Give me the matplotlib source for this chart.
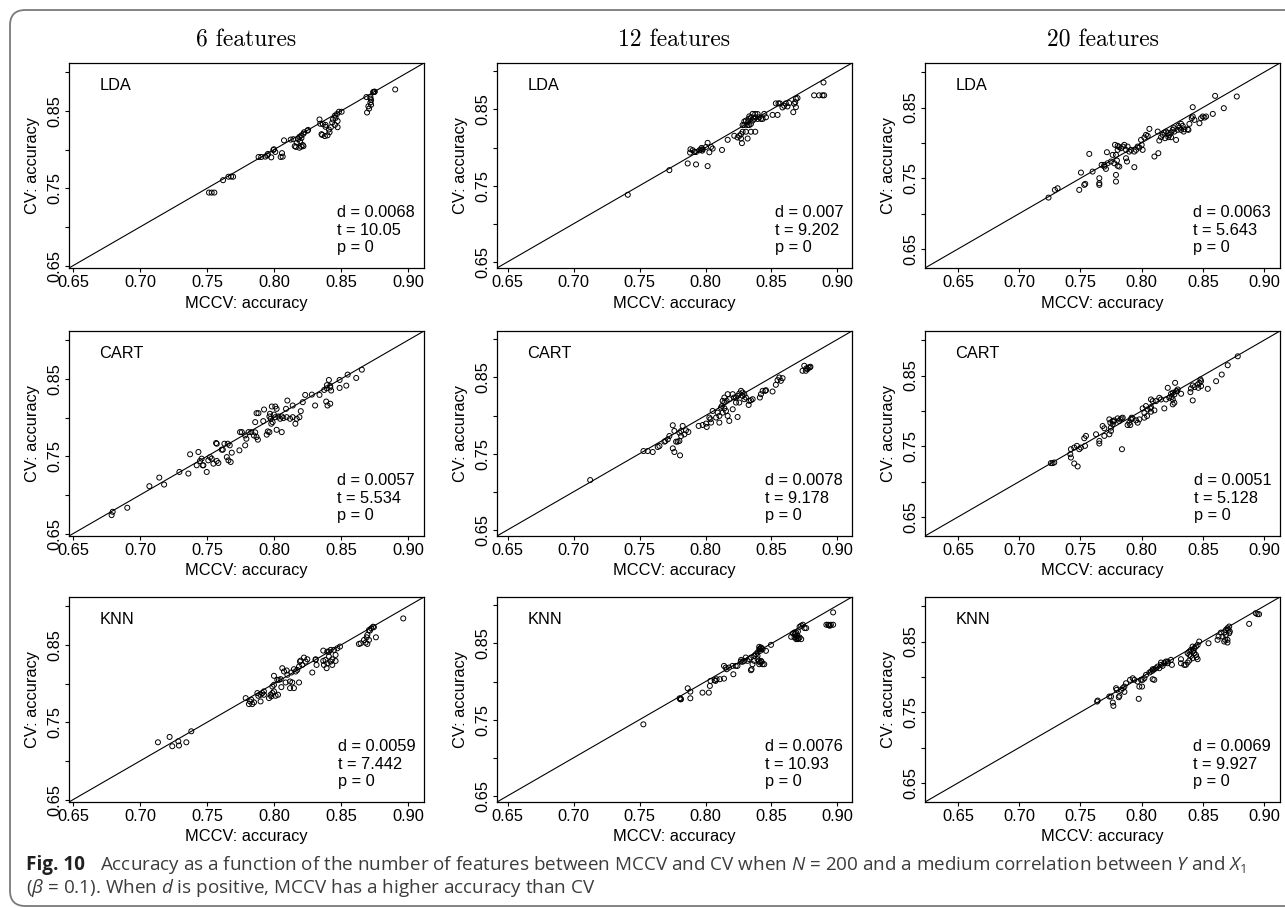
import matplotlib
matplotlib.use("Agg")
import matplotlib.pyplot as plt
from matplotlib.patches import FancyBboxPatch

plt.rcParams['font.family'] = ['Liberation Sans', 'DejaVu Sans']
plt.rcParams['mathtext.fontset'] = 'custom'
plt.rcParams['mathtext.rm'] = 'Open Sans'
plt.rcParams['mathtext.it'] = 'Open Sans:italic'

# ---- data: (MCCV accuracy, CV accuracy) ----
lda_6 = [(0.8905, 0.8778), (0.8745, 0.8748), (0.875, 0.8745), (0.8752, 0.875), (0.874, 0.8742),
         (0.869, 0.868), (0.872, 0.868), (0.8725, 0.864), (0.872, 0.861), (0.8725, 0.858), (0.8705, 0.856),
         (0.871, 0.853), (0.8695, 0.848), (0.872, 0.866),
         (0.8505, 0.849), (0.8485, 0.849), (0.847, 0.846), (0.8455, 0.844), (0.846, 0.841), (0.844, 0.839),
         (0.8475, 0.837), (0.8435, 0.835), (0.8455, 0.832), (0.8475, 0.829), (0.8425, 0.829), (0.841, 0.826),
         (0.8385, 0.8295), (0.8365, 0.833), (0.8345, 0.8335), (0.834, 0.839), (0.8385, 0.832), (0.8415, 0.8225),
         (0.84, 0.8185), (0.838, 0.8175), (0.836, 0.819), (0.8355, 0.82),
         (0.8255, 0.8255), (0.825, 0.8245), (0.8225, 0.8225), (0.822, 0.8205), (0.8205, 0.8185), (0.819, 0.8165),
         (0.8205, 0.815), (0.818, 0.8135), (0.8195, 0.811), (0.817, 0.809), (0.8215, 0.806), (0.8205, 0.804),
         (0.819, 0.8025), (0.8165, 0.8035), (0.8155, 0.8045), (0.822, 0.8045), (0.8145, 0.8135), (0.8125, 0.813),
         (0.8075, 0.812),
         (0.80, 0.8005), (0.7995, 0.7995), (0.801, 0.797), (0.7955, 0.7945), (0.795, 0.7925), (0.7935, 0.791),
         (0.7905, 0.7905), (0.7885, 0.7905), (0.798, 0.79), (0.806, 0.7955), (0.805, 0.7905), (0.8065, 0.791),
         (0.7695, 0.765), (0.768, 0.7652), (0.766, 0.765), (0.762, 0.7605),
         (0.7555, 0.7445), (0.7535, 0.7445), (0.7515, 0.7445)]

cart_6 = [(0.8656, 0.862), (0.8614, 0.8513), (0.855, 0.8556), (0.854, 0.8414), (0.849, 0.8487), (0.849, 0.8384),
          (0.8427, 0.835), (0.842, 0.839), (0.842, 0.841), (0.8395, 0.842), (0.841, 0.8487), (0.8395, 0.838),
          (0.8375, 0.8358), (0.839, 0.8208), (0.840, 0.8157), (0.842, 0.818), (0.834, 0.8294), (0.8307, 0.8157),
          (0.8283, 0.8298), (0.8233, 0.8294), (0.8215, 0.82),
          (0.820, 0.8084), (0.819, 0.8006), (0.817, 0.7985), (0.816, 0.7921), (0.814, 0.8006), (0.812, 0.7985),
          (0.8095, 0.8006), (0.807, 0.7994), (0.8046, 0.7985), (0.8058, 0.8015), (0.8033, 0.8015),
          (0.81, 0.8221), (0.814, 0.8157), (0.809, 0.8114),
          (0.801, 0.8144), (0.802, 0.8114), (0.801, 0.8006), (0.799, 0.7942), (0.798, 0.7921), (0.80, 0.804),
          (0.7984, 0.8144), (0.7976, 0.7985), (0.7966, 0.8015), (0.797, 0.805), (0.802, 0.7843), (0.8058, 0.7813),
          (0.7926, 0.8105), (0.7884, 0.8058), (0.787, 0.8058), (0.786, 0.7942), (0.792, 0.7955),
          (0.787, 0.775), (0.788, 0.7715), (0.785, 0.777), (0.786, 0.781),
          (0.7954, 0.7822), (0.7946, 0.778), (0.7966, 0.7813),
          (0.781, 0.7813), (0.783, 0.7813), (0.7785, 0.777), (0.7794, 0.7727), (0.776, 0.7813), (0.7747, 0.7813),
          (0.7785, 0.7642), (0.7742, 0.7577), (0.7685, 0.7547),
          (0.7655, 0.7663), (0.767, 0.7642), (0.7618, 0.7586), (0.761, 0.7586), (0.763, 0.7663), (0.7568, 0.7672),
          (0.7573, 0.7663), (0.7648, 0.749), (0.766, 0.7448), (0.7677, 0.7427), (0.7585, 0.7414), (0.7573, 0.744),
          (0.7523, 0.749), (0.7535, 0.747), (0.751, 0.7448), (0.7548, 0.7405), (0.7498, 0.7298), (0.7473, 0.7384),
          (0.7468, 0.7384), (0.7423, 0.7384), (0.7448, 0.744), (0.746, 0.747), (0.7436, 0.7556), (0.7374, 0.7526),
          (0.7361, 0.7277), (0.7294, 0.7298), (0.718, 0.7135), (0.7144, 0.7225), (0.707, 0.7114),
          (0.6905, 0.6835), (0.6796, 0.6783), (0.6788, 0.674)]

knn_6 = [(0.8965, 0.8843), (0.874, 0.8736), (0.8726, 0.8715), (0.8709, 0.8693), (0.8716, 0.8685), (0.8746, 0.873),
         (0.8697, 0.8629), (0.8709, 0.8564), (0.8684, 0.853), (0.8697, 0.8513), (0.8672, 0.8564), (0.8634, 0.8513),
         (0.8647, 0.8521), (0.8692, 0.8599), (0.8761, 0.8599),
         (0.8493, 0.8479), (0.8473, 0.8457), (0.8448, 0.8436), (0.8423, 0.8436), (0.841, 0.8414), (0.8368, 0.8427),
         (0.8398, 0.8414),
         (0.846, 0.8371), (0.846, 0.8294), (0.8435, 0.8315), (0.841, 0.835), (0.8385, 0.8307), (0.8368, 0.8294),
         (0.8373, 0.8242), (0.8398, 0.8264), (0.8423, 0.8285), (0.8435, 0.8242), (0.8393, 0.82),
         (0.8311, 0.8315), (0.8311, 0.8307), (0.8249, 0.8315), (0.8236, 0.8285), (0.8224, 0.8337),
         (0.8199, 0.8298), (0.8211, 0.8242), (0.8187, 0.8221), (0.8174, 0.8178), (0.8162, 0.8157), (0.8149, 0.8187),
         (0.813, 0.8144), (0.8286, 0.8144), (0.8318, 0.8242), (0.8194, 0.8285),
         (0.81, 0.8114), (0.8062, 0.82), (0.8075, 0.8157), (0.8095, 0.817),
         (0.80, 0.8101), (0.8025, 0.8049), (0.805, 0.8058), (0.8037, 0.8049),
         (0.812, 0.8028), (0.8137, 0.8015), (0.8149, 0.7942), (0.812, 0.7942), (0.8187, 0.8015),
         (0.8055, 0.7955), (0.8087, 0.8015), (0.80, 0.7985), (0.7988, 0.7963),
         (0.7988, 0.7878), (0.7975, 0.7856), (0.8012, 0.7843), (0.803, 0.7856), (0.80, 0.79), (0.7963, 0.7813),
         (0.798, 0.7835),
         (0.7925, 0.79), (0.7925, 0.7856), (0.7913, 0.7878), (0.79, 0.7856), (0.7876, 0.7878), (0.7883, 0.7843),
         (0.79, 0.777),
         (0.7851, 0.7758), (0.7838, 0.7736), (0.7813, 0.7736), (0.7821, 0.777), (0.7789, 0.7813), (0.7831, 0.7792),
         (0.7383, 0.7384), (0.7221, 0.7311), (0.7134, 0.7242), (0.7241, 0.7191), (0.7286, 0.7255), (0.7291, 0.72),
         (0.7346, 0.7242)]

lda_12 = [(0.8894, 0.8854),
          (0.8823, 0.8686), (0.8861, 0.8686), (0.8887, 0.8686), (0.8899, 0.8686),
          (0.8697, 0.865), (0.8685, 0.8642), (0.868, 0.8597), (0.8672, 0.8575), (0.8685, 0.8531), (0.8665, 0.8465),
          (0.8634, 0.8584), (0.8608, 0.858), (0.8596, 0.8549), (0.8621, 0.854), (0.8583, 0.8527), (0.8563, 0.858),
          (0.8553, 0.858), (0.8533, 0.858),
          (0.8546, 0.8429), (0.8508, 0.8429),
          (0.8458, 0.8398), (0.8433, 0.8376), (0.842, 0.8376), (0.8408, 0.8398), (0.8395, 0.8376), (0.8445, 0.8442),
          (0.8377, 0.8442), (0.8357, 0.8442), (0.8345, 0.8398), (0.8332, 0.841), (0.8327, 0.8376), (0.8357, 0.8354),
          (0.837, 0.8376), (0.832, 0.8332), (0.8306, 0.8354), (0.8294, 0.8342), (0.8395, 0.844), (0.838, 0.8398),
          (0.8281, 0.8296), (0.8294, 0.8296), (0.8319, 0.8296), (0.8332, 0.8296), (0.8344, 0.831),
          (0.8306, 0.8208), (0.8344, 0.8208), (0.8377, 0.8208), (0.8281, 0.8208), (0.8269, 0.8177), (0.8256, 0.8155),
          (0.8243, 0.8133), (0.8269, 0.8119), (0.8319, 0.8119), (0.8218, 0.8155), (0.8276, 0.8058),
          (0.8168, 0.8102), (0.8125, 0.7969),
          (0.8054, 0.7987), (0.8042, 0.8009), (0.8016, 0.8062), (0.8029, 0.7938), (0.8004, 0.8009), (0.7979, 0.7978),
          (0.7966, 0.7973), (0.7954, 0.7965), (0.7928, 0.7942), (0.7916, 0.7942), (0.7903, 0.7965), (0.7886, 0.7978),
          (0.7883, 0.7934), (0.7975, 0.796), (0.797, 0.7995),
          (0.8016, 0.7757), (0.7928, 0.7779), (0.7865, 0.7792),
          (0.7726, 0.7704), (0.7411, 0.7381)]

cart_12 = [(0.879, 0.8632), (0.8773, 0.861), (0.876, 0.8588), (0.8748, 0.8654), (0.8735, 0.8588), (0.878, 0.8632),
           (0.8795, 0.8641), (0.8765, 0.862),
           (0.8584, 0.8491), (0.8559, 0.85), (0.8571, 0.8456), (0.8546, 0.8465), (0.8533, 0.8404), (0.8508, 0.8316),
           (0.8458, 0.8333), (0.8453, 0.8325), (0.8433, 0.8325), (0.842, 0.8281), (0.8412, 0.8237),
           (0.8357, 0.8215), (0.8344, 0.8202), (0.8332, 0.8193), (0.8327, 0.814), (0.8306, 0.8237), (0.8294, 0.8281),
           (0.8281, 0.8303), (0.8269, 0.8325), (0.8256, 0.8289), (0.8243, 0.8259), (0.8231, 0.8237), (0.8218, 0.8237),
           (0.8206, 0.8281), (0.8231, 0.8171), (0.8256, 0.8171), (0.8281, 0.8259), (0.8294, 0.8215),
           (0.8168, 0.8281), (0.816, 0.8193), (0.8143, 0.8171), (0.813, 0.8193), (0.8125, 0.8127), (0.8117, 0.8105),
           (0.8143, 0.8096), (0.8155, 0.8061), (0.813, 0.8039), (0.8168, 0.7996), (0.818, 0.793), (0.8206, 0.8083),
           (0.8243, 0.7982), (0.818, 0.8215), (0.8143, 0.8237),
           (0.8105, 0.7996), (0.8092, 0.8039), (0.808, 0.7974), (0.8105, 0.7908), (0.8054, 0.8061), (0.8029, 0.7974),
           (0.8037, 0.7952), (0.8004, 0.7895), (0.8009, 0.7851), (0.8042, 0.7908),
           (0.7979, 0.7877), (0.7948, 0.7864),
           (0.787, 0.7785), (0.7852, 0.7807), (0.784, 0.7754), (0.7815, 0.7798), (0.7827, 0.7864), (0.7802, 0.7776),
           (0.7815, 0.7732), (0.7752, 0.7873), (0.7764, 0.7798), (0.7802, 0.7667), (0.7789, 0.7658), (0.7777, 0.7658),
           (0.7752, 0.757), (0.7764, 0.7522), (0.7807, 0.7478),
           (0.7726, 0.7732), (0.7714, 0.7689), (0.7696, 0.7667), (0.7689, 0.7658), (0.7651, 0.7601), (0.7638, 0.7588),
           (0.76, 0.7522), (0.7562, 0.7535), (0.753, 0.7535),
           (0.7126, 0.7154)]

knn_12 = [(0.8967, 0.8908),
          (0.8916, 0.8746), (0.8929, 0.8746), (0.8942, 0.8733), (0.895, 0.8746), (0.8967, 0.8746), (0.8935, 0.874),
          (0.8738, 0.8746), (0.8725, 0.8733), (0.8713, 0.8719), (0.8751, 0.8702), (0.8763, 0.8702),
          (0.8687, 0.8645), (0.8662, 0.8632), (0.8675, 0.8645), (0.87, 0.8658), (0.8649, 0.8588), (0.8675, 0.8579),
          (0.8687, 0.8557), (0.87, 0.8557), (0.8713, 0.8579), (0.8725, 0.8557), (0.8695, 0.8601), (0.868, 0.8623),
          (0.8705, 0.857), (0.869, 0.8575),
          (0.8496, 0.8482),
          (0.842, 0.8447), (0.8407, 0.8425), (0.8415, 0.8404), (0.8394, 0.8382), (0.8425, 0.8439), (0.8433, 0.8425),
          (0.8407, 0.8456), (0.8412, 0.843),
          (0.8458, 0.8404), (0.8394, 0.8338), (0.8382, 0.836), (0.8369, 0.8338), (0.8344, 0.8316), (0.8331, 0.8294),
          (0.8318, 0.8272), (0.8369, 0.8272), (0.8394, 0.8294), (0.842, 0.8272), (0.8445, 0.8228), (0.8433, 0.8228),
          (0.8407, 0.8228), (0.8415, 0.825), (0.8425, 0.826), (0.8402, 0.8265),
          (0.8356, 0.8228), (0.8349, 0.8162), (0.8344, 0.8149),
          (0.8305, 0.8316), (0.8293, 0.8272), (0.8267, 0.8263), (0.8242, 0.8206), (0.8229, 0.8206), (0.8204, 0.8206),
          (0.8178, 0.8184), (0.8153, 0.8184), (0.814, 0.8206), (0.816, 0.8162), (0.828, 0.826), (0.827, 0.8285),
          (0.8211, 0.8096),
          (0.814, 0.8039), (0.8109, 0.8031), (0.8084, 0.8031), (0.8076, 0.8009), (0.8069, 0.8018),
          (0.8038, 0.8009), (0.8033, 0.7943), (0.8025, 0.7855), (0.7977, 0.7855),
          (0.7885, 0.7868), (0.7865, 0.7912), (0.7885, 0.7781),
          (0.7814, 0.7768), (0.7804, 0.7781), (0.7809, 0.7768), (0.7812, 0.7775),
          (0.7529, 0.7439)]

lda_20 = [(0.8777, 0.8656), (0.86, 0.8665), (0.8671, 0.8491), (0.8581, 0.841),
          (0.8526, 0.8373), (0.8513, 0.8358), (0.8499, 0.8373), (0.8485, 0.8349), (0.8417, 0.8373), (0.8409, 0.8349),
          (0.8417, 0.8505),
          (0.8472, 0.8278), (0.8431, 0.8325), (0.839, 0.8269), (0.8376, 0.8193), (0.8349, 0.8193), (0.8335, 0.824),
          (0.8322, 0.8269), (0.8308, 0.8217), (0.8294, 0.8184), (0.8267, 0.816), (0.8254, 0.8184), (0.824, 0.8146),
          (0.8226, 0.8113), (0.8213, 0.8137), (0.8199, 0.816), (0.8185, 0.8146), (0.8172, 0.8113), (0.8158, 0.808),
          (0.8131, 0.816), (0.8144, 0.8033), (0.8281, 0.8042), (0.8343, 0.816), (0.8382, 0.8184), (0.8322, 0.8184),
          (0.824, 0.808), (0.8262, 0.8208), (0.83, 0.824), (0.8218, 0.808), (0.8191, 0.8066),
          (0.8136, 0.7854), (0.8104, 0.7807), (0.8063, 0.8198), (0.8035, 0.8113), (0.8022, 0.8075), (0.8049, 0.8099),
          (0.7995, 0.8042), (0.80, 0.7972), (0.8008, 0.7901), (0.7967, 0.7948), (0.7954, 0.7901), (0.7981, 0.7934),
          (0.794, 0.7877), (0.7913, 0.7901), (0.7899, 0.7877), (0.7885, 0.7948), (0.7858, 0.7972), (0.7872, 0.7901),
          (0.7845, 0.7948), (0.7804, 0.7958), (0.7817, 0.7939), (0.7831, 0.7925), (0.7872, 0.7783), (0.788, 0.7736),
          (0.7804, 0.7901), (0.779, 0.783), (0.7798, 0.775), (0.7817, 0.7665), (0.7804, 0.7675), (0.7776, 0.7712),
          (0.7763, 0.783), (0.7749, 0.7736), (0.7722, 0.7712), (0.7708, 0.7632), (0.7695, 0.7689), (0.7716, 0.7868),
          (0.7695, 0.7665), (0.7673, 0.7689),
          (0.7654, 0.75), (0.7654, 0.7429), (0.7654, 0.7406), (0.7599, 0.7594), (0.7572, 0.7844), (0.7504, 0.758),
          (0.7531, 0.7406), (0.7539, 0.742), (0.749, 0.7335), (0.7291, 0.7335), (0.7313, 0.7358), (0.7239, 0.7226),
          (0.779, 0.7547), (0.779, 0.7453), (0.7782, 0.7972), (0.794, 0.7656)]

cart_20 = [(0.8785, 0.8772), (0.8703, 0.8646), (0.8654, 0.8514), (0.8608, 0.842), (0.854, 0.8312),
           (0.8485, 0.842), (0.848, 0.8444), (0.8472, 0.8397), (0.8485, 0.835), (0.8458, 0.8373), (0.8463, 0.8326),
           (0.8417, 0.8359), (0.8417, 0.8148), (0.8398, 0.8265), (0.8403, 0.8317), (0.8431, 0.8336),
           (0.8322, 0.8242), (0.8294, 0.8303), (0.8289, 0.8279), (0.8273, 0.8397), (0.8281, 0.8279), (0.8267, 0.8232),
           (0.8254, 0.8256), (0.824, 0.8242), (0.8254, 0.8162), (0.8267, 0.8115), (0.8254, 0.8092), (0.8245, 0.8195),
           (0.8226, 0.8185), (0.8213, 0.8326), (0.8199, 0.8162), (0.8185, 0.8035), (0.8158, 0.8162), (0.8144, 0.8185),
           (0.8117, 0.8138), (0.809, 0.8138), (0.8104, 0.8007), (0.8076, 0.7988), (0.8071, 0.8035), (0.8076, 0.8054),
           (0.8049, 0.8021), (0.8044, 0.7927), (0.8035, 0.8068), (0.8022, 0.7974), (0.8022, 0.7904), (0.8008, 0.8035),
           (0.8076, 0.8162),
           (0.7981, 0.788), (0.7967, 0.7833), (0.7954, 0.7866), (0.7926, 0.7894), (0.7918, 0.7904), (0.7913, 0.788),
           (0.7899, 0.7833), (0.7907, 0.78), (0.7885, 0.78), (0.7845, 0.7904), (0.7836, 0.7894), (0.7826, 0.788),
           (0.7817, 0.7857), (0.7804, 0.7894), (0.7776, 0.7866), (0.7771, 0.7847), (0.7763, 0.781), (0.7749, 0.7716),
           (0.7736, 0.7669), (0.7744, 0.7833), (0.7736, 0.788), (0.7763, 0.7857), (0.7749, 0.7763), (0.7695, 0.7754),
           (0.7681, 0.7786), (0.7627, 0.7669), (0.7654, 0.7575), (0.7654, 0.7538), (0.7695, 0.7646), (0.7839, 0.7458),
           (0.7545, 0.7646), (0.7531, 0.7613), (0.7537, 0.7505), (0.7504, 0.7481), (0.749, 0.7458), (0.7471, 0.7505),
           (0.7449, 0.7481), (0.7422, 0.7458), (0.7417, 0.7387), (0.7422, 0.734), (0.7449, 0.7256), (0.7477, 0.7214),
           (0.7286, 0.727), (0.7272, 0.7261), (0.7258, 0.7261)]

knn_20 = [(0.8946, 0.8887), (0.8959, 0.8887), (0.8932, 0.8901), (0.8878, 0.875),
          (0.8715, 0.8712), (0.8701, 0.8689), (0.8688, 0.8665), (0.8674, 0.8627), (0.8709, 0.8665), (0.8715, 0.8618),
          (0.872, 0.8642), (0.8688, 0.8594), (0.866, 0.8571), (0.8628, 0.8571), (0.8647, 0.8627), (0.862, 0.8524),
          (0.8674, 0.85), (0.8701, 0.8486), (0.8682, 0.8524), (0.8701, 0.8524),
          (0.8546, 0.8476),
          (0.847, 0.85), (0.8457, 0.8453), (0.8443, 0.8429), (0.8429, 0.8406), (0.8416, 0.8429), (0.8402, 0.8382),
          (0.8389, 0.8358), (0.8416, 0.8358), (0.8429, 0.8335), (0.8443, 0.8311), (0.8416, 0.8264), (0.8448, 0.8278),
          (0.8457, 0.825), (0.8375, 0.8335), (0.8389, 0.8311), (0.8402, 0.8297), (0.8424, 0.8373),
          (0.8375, 0.8203), (0.8361, 0.817), (0.8348, 0.817), (0.8321, 0.8193), (0.8321, 0.825), (0.8389, 0.8231),
          (0.8239, 0.8241), (0.8247, 0.817), (0.8212, 0.8193), (0.8198, 0.8217), (0.8185, 0.8193), (0.8171, 0.8156),
          (0.8158, 0.817), (0.8144, 0.8123), (0.813, 0.8146), (0.8117, 0.8123), (0.8103, 0.8108), (0.809, 0.809),
          (0.8076, 0.8075), (0.8063, 0.8061), (0.8103, 0.7958), (0.809, 0.7967), (0.8035, 0.8028), (0.8022, 0.7981),
          (0.8008, 0.7958), (0.7995, 0.7958), (0.8003, 0.7863), (0.7981, 0.7863), (0.7967, 0.7934), (0.794, 0.7958),
          (0.7927, 0.7981), (0.7905, 0.7958), (0.7872, 0.791), (0.7859, 0.7863), (0.7845, 0.784), (0.7832, 0.7816),
          (0.7859, 0.7788), (0.7791, 0.784), (0.7796, 0.7816), (0.7818, 0.7731), (0.7813, 0.7712), (0.775, 0.7722),
          (0.7764, 0.7637), (0.7769, 0.759), (0.7736, 0.7722), (0.7636, 0.7651), (0.7641, 0.7665), (0.7976, 0.7689),
          (0.8212, 0.8217), (0.809, 0.8108), (0.8158, 0.8203)]

n_features = ["6 features", "12 features", "20 features"]
methods = ["LDA", "CART", "KNN"]
panels = [[lda_6, cart_6, knn_6], [lda_12, cart_12, knn_12], [lda_20, cart_20, knn_20]]
d_vals = [["0.0068", "0.0057", "0.0059"], ["0.007", "0.0078", "0.0076"], ["0.0063", "0.0051", "0.0069"]]
t_vals = [["10.05", "5.534", "7.442"], ["9.202", "9.178", "10.93"], ["5.643", "5.128", "9.927"]]
p_vals = [["0", "0", "0"], ["0", "0", "0"], ["0", "0", "0"]]
col_lims = [(0.647, 0.912), (0.642, 0.911), (0.623, 0.913)]
ticks = [0.65, 0.70, 0.75, 0.80, 0.85, 0.90]
ytick_labels = ["0.65", "", "0.75", "", "0.85", ""]

W, H = 1285, 908
fig = plt.figure(figsize=(W / 100, H / 100), dpi=100)

# rounded frame around the figure (right side runs off the page)
frame = FancyBboxPatch((10 / W, 2 / H), 1.2, (H - 12) / H, boxstyle="round,pad=0,rounding_size=0.012",
                       transform=fig.transFigure, fill=False, edgecolor="#7a7a7a", linewidth=1.3,
                       mutation_aspect=W / H)
fig.patches.append(frame)

lefts = [69, 497, 925]
tops = [63, 331, 597]
aw, ah = 355, 205
fs = 11.8

for c in range(3):
    for r in range(3):
        ax = fig.add_axes([lefts[c] / W, 1 - (tops[r] + ah) / H, aw / W, ah / H])
        pts = panels[c][r]
        xs = [p[0] for p in pts]
        ys = [p[1] for p in pts]
        ax.scatter(xs, ys, s=13, facecolors="none", edgecolors="black", linewidths=0.7, zorder=3)
        ax.axline((0.7, 0.7), slope=1, color="black", linewidth=0.8)
        ax.set_xlim(col_lims[c])
        ax.set_ylim(col_lims[c])
        ax.set_xticks(ticks)
        ax.set_xticklabels(["%.2f" % t for t in ticks])
        ax.set_yticks(ticks)
        ax.set_yticklabels(ytick_labels)
        ax.tick_params(direction="out", length=3, width=0.8, labelsize=fs, pad=2)
        ax.tick_params(axis="y", labelrotation=90)
        for lab in ax.get_yticklabels():
            lab.set_va("center")
        for sp in ax.spines.values():
            sp.set_linewidth(0.9)
        ax.set_xlabel("MCCV: accuracy", fontsize=fs, va="center")
        ax.xaxis.set_label_coords(0.5, -35 / ah)
        ax.set_ylabel("CV: accuracy", fontsize=fs, va="center")
        ax.yaxis.set_label_coords(-37 / aw, 0.5)
        ax.text(0.085, 0.888, methods[r], transform=ax.transAxes, fontsize=fs, ha="left", va="center")
        stats = "d = %s\nt = %s\np = %s" % (d_vals[c][r], t_vals[c][r], p_vals[c][r])
        ax.text(0.975, 0.185, stats, transform=ax.transAxes, fontsize=fs, ha="right", va="center",
                multialignment="left", linespacing=1.2)
        if r == 0:
            ax.set_title(n_features[c], fontfamily="cmr10", fontsize=17, pad=12)

# caption
cap_fs = 13.6
fig.text(26 / W, 1 - 865 / H, "Fig. 10", fontfamily="Open Sans", fontweight="bold", fontsize=cap_fs,
         color="#231f20", va="center")
fig.text(100 / W, 1 - 865 / H,
         "Accuracy as a function of the number of features between MCCV and CV when $N$ = 200 and a medium "
         "correlation between $Y$ and $X_1$",
         fontfamily="Open Sans", fontsize=cap_fs, color="#3c3c3c", va="center")
fig.text(26 / W, 1 - 888 / H,
         r"($\beta$ = 0.1). When $d$ is positive, MCCV has a higher accuracy than CV",
         fontfamily="Open Sans", fontsize=cap_fs, color="#3c3c3c", va="center")

fig.savefig("out.png", dpi=100)
